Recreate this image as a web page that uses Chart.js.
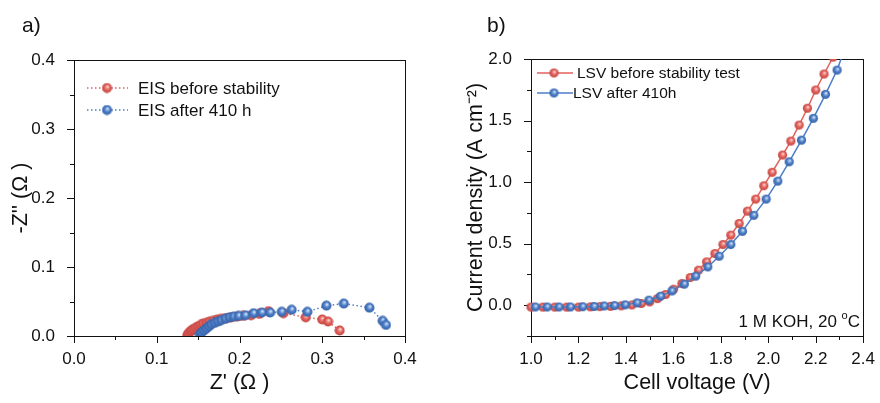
<!DOCTYPE html>
<html>
<head>
<meta charset="utf-8">
<script src="https://cdn.jsdelivr.net/npm/chart.js@4.4.0/dist/chart.umd.min.js"></script>
<style>
  body { margin: 0; background: #fff; font-family: "Liberation Sans", Arial, sans-serif; }
  #wrap { position: relative; width: 880px; height: 403px; }
  .box { position: absolute; top: 0; width: 440px; height: 403px; }
  .lbl { position: absolute; top: 13px; font-size: 21px; color: #111; }
</style>
</head>
<body>
<div id="wrap">
  <div class="box" style="left:0"><canvas id="eis"></canvas></div>
  <div class="box" style="left:440px"><canvas id="lsv"></canvas></div>
  <div class="lbl" style="left:22px">a)</div>
  <div class="lbl" style="left:487px">b)</div>
</div>
<script>
// EIS (Nyquist) data, ohm
const eisBeforeRe = [0.137,0.138,0.140,0.142,0.144,0.147,0.150,0.153,0.156,0.160,0.164,0.168,0.173,0.178,0.184,0.190,0.197,0.204,0.214,0.224,0.235,0.253,0.280,0.300,0.307,0.321]
const eisBeforeIm = [0.001,0.003,0.006,0.008,0.010,0.012,0.014,0.016,0.018,0.019,0.021,0.022,0.024,0.025,0.026,0.027,0.028,0.029,0.030,0.032,0.036,0.033,0.027,0.024,0.021,0.008]
const eisAfterRe = [0.152,0.154,0.157,0.160,0.163,0.166,0.170,0.174,0.178,0.183,0.188,0.193,0.199,0.207,0.217,0.227,0.237,0.251,0.263,0.282,0.305,0.326,0.357,0.373,0.377]
const eisAfterIm = [0.002,0.005,0.008,0.011,0.014,0.017,0.019,0.021,0.023,0.025,0.027,0.028,0.029,0.030,0.033,0.034,0.034,0.035,0.038,0.035,0.044,0.047,0.041,0.022,0.016]

// LSV data, V and A cm-2
const lsvBeforeV = [1.00,1.05,1.10,1.15,1.20,1.25,1.29,1.335,1.38,1.425,1.465,1.50,1.533,1.567,1.601,1.636,1.671,1.706,1.740,1.775,1.809,1.842,1.877,1.912,1.947,1.981,2.016,2.06,2.095,2.13,2.165,2.20,2.235,2.273]
const lsvBeforeJ = [-0.015,-0.015,-0.015,-0.015,-0.015,-0.013,-0.011,-0.009,-0.005,0.002,0.014,0.027,0.054,0.087,0.13,0.176,0.225,0.285,0.352,0.42,0.493,0.569,0.664,0.764,0.862,0.97,1.08,1.22,1.333,1.463,1.6,1.748,1.878,2.015]
const lsvAfterV = [1.018,1.068,1.118,1.166,1.218,1.266,1.308,1.352,1.397,1.447,1.497,1.546,1.594,1.646,1.694,1.745,1.793,1.842,1.891,1.939,1.991,2.04,2.088,2.14,2.19,2.241,2.29,2.318]
const lsvAfterJ = [-0.014,-0.014,-0.014,-0.014,-0.012,-0.010,-0.006,-0.003,0.003,0.019,0.041,0.073,0.116,0.171,0.236,0.311,0.398,0.493,0.600,0.730,0.862,1.008,1.165,1.341,1.518,1.713,1.91,2.06]

// labelled (major) ticks
const eisTicks = [0.0, 0.1, 0.2, 0.3, 0.4]
const lsvXTicks = [1.0, 1.2, 1.4, 1.6, 1.8, 2.0, 2.2, 2.4]
const lsvYTicks = [0.0, 0.5, 1.0, 1.5, 2.0]

const FONT = '"Liberation Sans", Arial, sans-serif'
const RED = '#e2615b', RED_DARK = '#c2443f', RED_LIGHT = '#f2a6a2'
const BLUE = '#4c7dc6', BLUE_DARK = '#3460a6', BLUE_LIGHT = '#9fbde8'

Chart.defaults.font.family = FONT
Chart.defaults.color = '#111'

// shaded ball marker like the original
function ball(color, light, dark, r) {
  const c = document.createElement('canvas')
  const s = Math.ceil(r * 2) + 1
  c.width = s; c.height = s
  const g = c.getContext('2d')
  const cx = s / 2, cy = s / 2
  const grad = g.createRadialGradient(cx + r * 0.15, cy - r * 0.3, 0, cx, cy, r)
  grad.addColorStop(0, '#ffffff')
  grad.addColorStop(0.22, light)
  grad.addColorStop(0.55, color)
  grad.addColorStop(1, dark)
  g.fillStyle = grad
  g.beginPath(); g.arc(cx, cy, r, 0, Math.PI * 2); g.fill()
  return c
}

function pairs(xs, ys) { return xs.map((x, i) => ({x: x, y: ys[i]})) }
function inList(v, list) { return list.some(t => Math.abs(t - v) < 1e-6) }

// box, ticks, legend and note
const deco = {
  id: 'deco',
  beforeDatasetsDraw(chart, args, o) {
    const {ctx, chartArea: a, scales} = chart
    ctx.save()
    ctx.strokeStyle = '#111'
    ctx.lineWidth = 1
    ctx.strokeRect(Math.round(a.left) + 0.5, Math.round(a.top) + 0.5, Math.round(a.width), Math.round(a.height))
    ctx.beginPath()
    scales.x.ticks.forEach(t => {
      const px = Math.round(scales.x.getPixelForValue(t.value)) + 0.5
      const len = inList(t.value, o.xMajor) ? 7 : 4
      ctx.moveTo(px, a.bottom); ctx.lineTo(px, a.bottom + len)
    })
    scales.y.ticks.forEach(t => {
      const py = Math.round(scales.y.getPixelForValue(t.value)) + 0.5
      const len = inList(t.value, o.yMajor) ? 7 : 4
      ctx.moveTo(a.left, py); ctx.lineTo(a.left - len, py)
    })
    ctx.stroke()
    ctx.restore()
  },
  afterDraw(chart, args, o) {
    const ctx = chart.ctx
    ctx.save()
    o.legend.forEach(it => {
      ctx.strokeStyle = it.color
      ctx.lineWidth = 1.5
      ctx.setLineDash(it.dash || [])
      ctx.beginPath(); ctx.moveTo(it.x0, it.y); ctx.lineTo(it.x1, it.y); ctx.stroke()
      ctx.setLineDash([])
      ctx.drawImage(it.img, it.mx - it.img.width / 2, it.y - it.img.height / 2)
      ctx.fillStyle = '#111'
      ctx.font = o.legendFont + 'px ' + FONT
      ctx.textBaseline = 'middle'
      ctx.fillText(it.text, it.tx, it.y + 1)
    })
    if (o.note) {
      const n = o.note
      ctx.font = n.size + 'px ' + FONT
      ctx.textBaseline = 'middle'
      ctx.fillStyle = '#111'
      const w1 = ctx.measureText(n.text).width
      ctx.font = (n.size * 0.65) + 'px ' + FONT
      const w2 = ctx.measureText(n.sup).width
      ctx.font = n.size + 'px ' + FONT
      const w3 = ctx.measureText(n.after).width
      let x = n.right - (w1 + w2 + w3)
      ctx.fillText(n.text, x, n.y); x += w1
      ctx.font = (n.size * 0.65) + 'px ' + FONT
      ctx.fillText(n.sup, x, n.y - 6); x += w2
      ctx.font = n.size + 'px ' + FONT
      ctx.fillText(n.after, x, n.y)
    }
    ctx.restore()
  }
}

function axis(min, max, step, major, title, titlePad, tickPad, size) {
  return {
    type: 'linear', min: min, max: max,
    afterFit: size,
    grid: {display: false},
    border: {display: false},
    ticks: {
      stepSize: step, autoSkip: false, maxRotation: 0, padding: tickPad,
      font: {size: 17}, color: '#111',
      callback: v => inList(v, major) ? v.toFixed(1) : ''
    },
    title: {display: true, text: title, font: {size: 21.5}, color: '#111', padding: titlePad}
  }
}

// a) EIS
const ballA_red = ball(RED, RED_LIGHT, RED_DARK, 5)
const ballA_blue = ball(BLUE, BLUE_LIGHT, BLUE_DARK, 5)
new Chart(document.getElementById('eis'), {
  type: 'line',
  data: {
    datasets: [{
      label: 'EIS before stability',
      data: pairs(eisBeforeRe, eisBeforeIm),
      borderColor: RED, borderWidth: 1.5, borderDash: [1.5, 2.5],
      pointStyle: ballA_red, pointRadius: 5, order: 1
    }, {
      label: 'EIS after 410 h',
      data: pairs(eisAfterRe, eisAfterIm),
      borderColor: BLUE, borderWidth: 1.5, borderDash: [1.5, 2.5],
      pointStyle: ballA_blue, pointRadius: 5, order: 0
    }]
  },
  options: {
    responsive: true, maintainAspectRatio: false, animation: false, events: [],
    layout: {padding: {top: 60, right: 35, left: 0, bottom: 0}},
    scales: {
      x: axis(0, 0.4, 0.05, eisTicks, "Z' (\u03a9 )", {top: 0, bottom: 7}, 5, s => { s.height = 67 }),
      y: axis(0, 0.4, 0.05, eisTicks, "-Z'' (\u03a9 )", {top: 8, bottom: 0}, 11, s => { s.width = 74 })
    },
    plugins: {
      legend: {display: false}, tooltip: {enabled: false},
      deco: {
        xMajor: eisTicks, yMajor: eisTicks, legendFont: 17,
        legend: [
          {text: 'EIS before stability', color: RED, dash: [1.5, 2.5], img: ballA_red, x0: 87, x1: 128, mx: 107, tx: 138, y: 88},
          {text: 'EIS after 410 h', color: BLUE, dash: [1.5, 2.5], img: ballA_blue, x0: 87, x1: 128, mx: 107, tx: 138, y: 110}
        ]
      }
    }
  },
  plugins: [deco]
})

// b) LSV
const ballB_red = ball(RED, RED_LIGHT, RED_DARK, 4.6)
const ballB_blue = ball(BLUE, BLUE_LIGHT, BLUE_DARK, 4.6)
new Chart(document.getElementById('lsv'), {
  type: 'line',
  data: {
    datasets: [{
      label: 'LSV before stability test',
      data: pairs(lsvBeforeV, lsvBeforeJ),
      borderColor: RED, borderWidth: 1.5,
      pointStyle: ballB_red, pointRadius: 4.6, order: 1,
      clip: {left: 8, bottom: 8, top: 0, right: 0}
    }, {
      label: 'LSV after 410h',
      data: pairs(lsvAfterV, lsvAfterJ),
      borderColor: BLUE, borderWidth: 1.5,
      pointStyle: ballB_blue, order: 0,
      pointRadius: c => c.dataIndex === lsvAfterV.length - 1 ? 0 : 4.6,
      clip: {left: 8, bottom: 8, top: 0, right: 0}
    }]
  },
  options: {
    responsive: true, maintainAspectRatio: false, animation: false, events: [],
    layout: {padding: {top: 59, right: 14, left: 15, bottom: 0}},
    scales: {
      x: axis(1.0, 2.4, 0.1, lsvXTicks, 'Cell voltage (V)', {top: 0, bottom: 7}, 5, s => { s.height = 67 }),
      y: axis(-0.25, 2.0, 0.25, lsvYTicks, 'Current density (A cm\u207b\u00b2)', {top: 8, bottom: 0}, 11, s => { s.width = 76 })
    },
    plugins: {
      legend: {display: false}, tooltip: {enabled: false},
      deco: {
        xMajor: lsvXTicks, yMajor: lsvYTicks, legendFont: 15.5,
        legend: [
          {text: 'LSV before stability test', color: RED, img: ballB_red, x0: 97, x1: 133, mx: 114, tx: 137, y: 73},
          {text: 'LSV after 410h', color: BLUE, img: ballB_blue, x0: 97, x1: 133, mx: 114, tx: 133, y: 93}
        ],
        note: {text: '1 M KOH, 20 ', sup: 'o', after: 'C', size: 17, right: 420, y: 322}
      }
    }
  },
  plugins: [deco]
})
</script>
</body>
</html>
